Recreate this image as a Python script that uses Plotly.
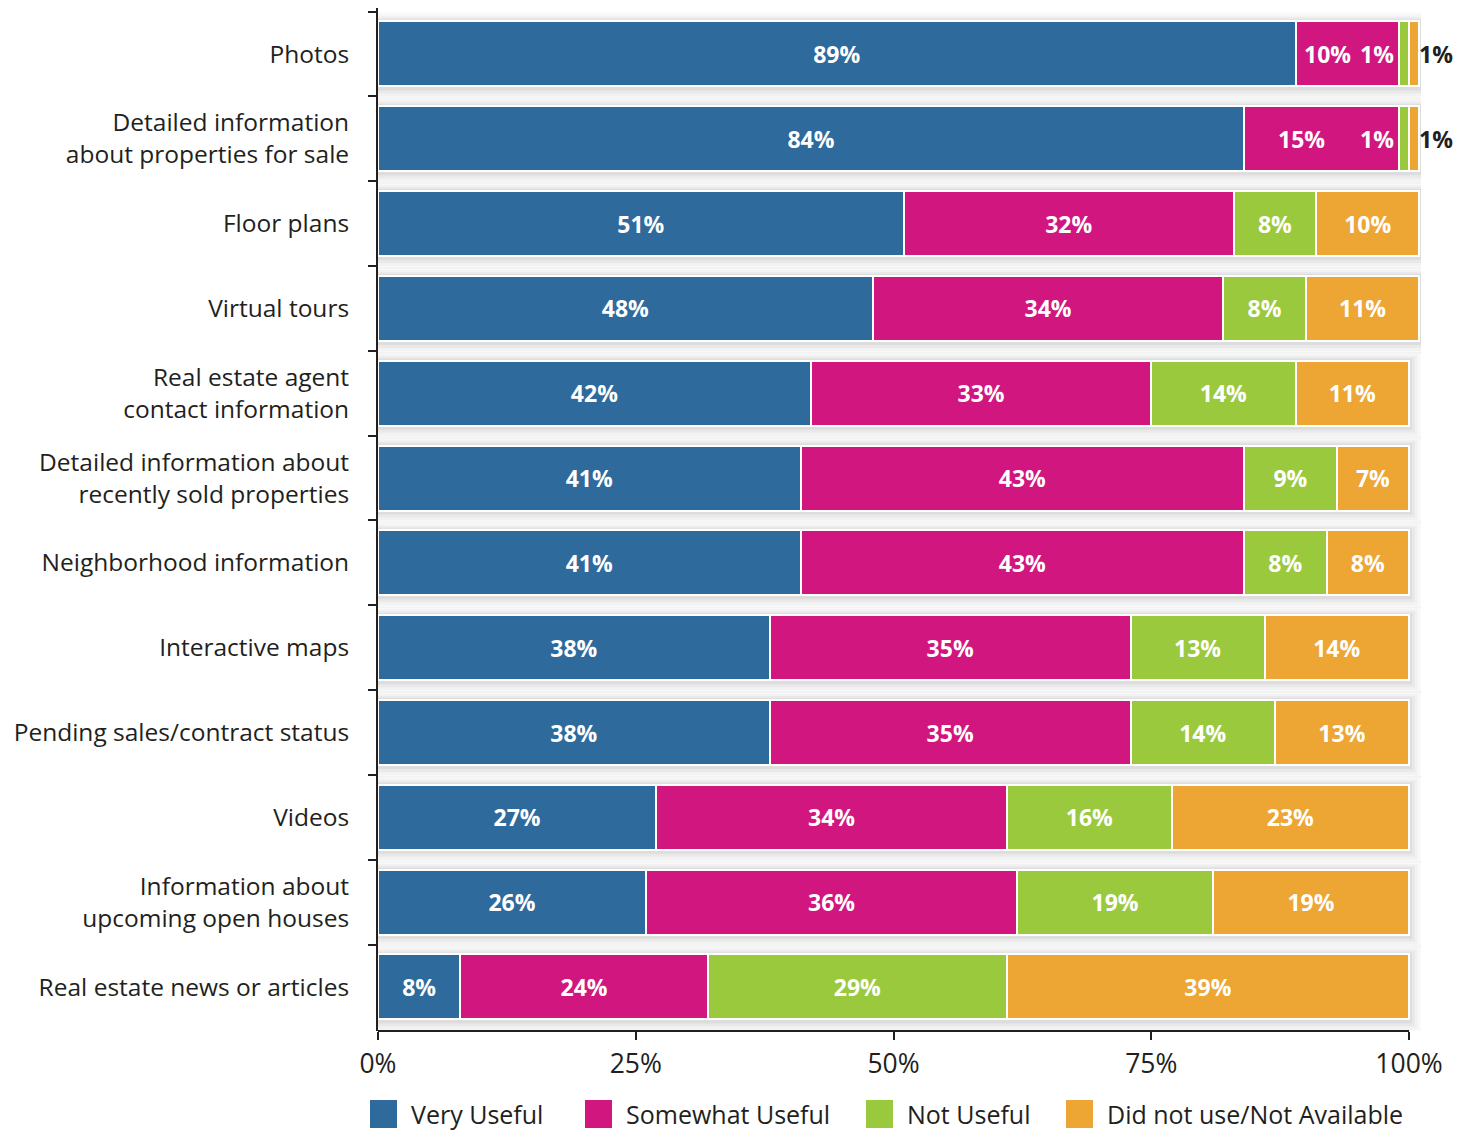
import plotly.graph_objects as go

# Survey: usefulness of website features
categories = [
    "Photos",
    "Detailed information<br>about properties for sale",
    "Floor plans",
    "Virtual tours",
    "Real estate agent<br>contact information",
    "Detailed information about<br>recently sold properties",
    "Neighborhood information",
    "Interactive maps",
    "Pending sales/contract status",
    "Videos",
    "Information about<br>upcoming open houses",
    "Real estate news or articles",
]
very_useful = [89, 84, 51, 48, 42, 41, 41, 38, 38, 27, 26, 8]
somewhat_useful = [10, 15, 32, 34, 33, 43, 43, 35, 35, 34, 36, 24]
not_useful = [1, 1, 8, 8, 14, 9, 8, 13, 14, 16, 19, 29]
did_not_use = [1, 1, 10, 11, 11, 7, 8, 14, 13, 23, 19, 39]

series_names = ["Very Useful", "Somewhat Useful", "Not Useful", "Did not use/Not Available"]
series_values = [very_useful, somewhat_useful, not_useful, did_not_use]
colors = ["#2e6a9b", "#d1167f", "#9bc93e", "#eda534"]

x_ticks = [0, 25, 50, 75, 100]
x_tick_labels = ["0%", "25%", "50%", "75%", "100%"]

FONT = "Open Sans"
TEXT_COLOR = "#231f20"
XMAX = 101.16
SMALL = 1  # segments this small get their label placed outside the segment

# plot-area geometry (pixels) used for the legend and the shadow padding
PLOT_L, PLOT_W = 378, 1461 - 378 - 40
PLOT_T, PLOT_H = 8, 1131 - 8 - 100
Y_RANGE = [11.519, -0.542]
PX_PER_X = PLOT_W / XMAX
PX_PER_Y = PLOT_H / (Y_RANGE[0] - Y_RANGE[1])

LABEL_FONT = dict(family=FONT, size=23, color="white", weight="bold")

fig = go.Figure()

for k, (name, vals, col) in enumerate(zip(series_names, series_values, colors)):
    texts = []
    for i, v in enumerate(vals):
        nxt = series_values[k + 1][i] if k + 1 < len(series_values) else None
        # labels of tiny segments, and of segments followed by one, are annotations
        if v <= SMALL or (nxt is not None and nxt <= SMALL):
            texts.append("")
        else:
            texts.append(f"{v}%")
    fig.add_trace(go.Bar(
        y=categories,
        x=vals,
        name=name,
        orientation="h",
        marker=dict(color=col, line=dict(color="white", width=2)),
        text=texts,
        textposition="inside",
        insidetextanchor="middle",
        textangle=0,
        constraintext="none",
        textfont=LABEL_FONT,
        showlegend=False,
        hoverinfo="skip",
    ))

shapes = []
annotations = []

# soft drop shadow behind each bar row
shadow_layers = [(13, 9, 13, 0.022), (9, 6, 10, 0.028), (6, 4, 7, 0.035), (3, 2, 4, 0.05)]
for i, cat in enumerate(categories):
    total = sum(s[i] for s in series_values)
    half = (1 - 0.234) / 2
    for pad_x, pad_top, pad_bot, a in shadow_layers:
        shapes.append(dict(
            type="rect", xref="x", yref="y", layer="below",
            x0=-pad_x / PX_PER_X, x1=total + pad_x / PX_PER_X,
            y0=i - half - pad_top / PX_PER_Y, y1=i + half + pad_bot / PX_PER_Y,
            fillcolor=f"rgba(0,0,0,{a})", line=dict(width=0),
        ))

    # labels for tiny segments and their crowded neighbours
    cum = 0
    for k, s in enumerate(series_values):
        v = s[i]
        nxt = series_values[k + 1][i] if k + 1 < len(series_values) else None
        if v <= SMALL:
            if k == len(series_values) - 1:
                annotations.append(dict(
                    x=cum + v, y=cat, xref="x", yref="y", text=f"{v}%",
                    xanchor="left", showarrow=False, xshift=-2,
                    font=dict(LABEL_FONT, color=TEXT_COLOR),
                ))
            else:
                annotations.append(dict(
                    x=cum, y=cat, xref="x", yref="y", text=f"{v}%",
                    xanchor="right", showarrow=False, xshift=-3,
                    font=LABEL_FONT,
                ))
        elif nxt is not None and nxt <= SMALL:
            annotations.append(dict(
                x=cum + v / 2, y=cat, xref="x", yref="y", text=f"{v}%",
                xanchor="center", showarrow=False, xshift=-20,
                font=LABEL_FONT,
            ))
        cum += v

# x axis baseline ending at 100%
shapes.append(dict(
    type="line", xref="paper", yref="paper", x0=0, x1=100 / XMAX, y0=0, y1=0,
    line=dict(color=TEXT_COLOR, width=2),
))


def px_x(px):
    return (px - PLOT_L) / PLOT_W


def px_y(py):
    return (PLOT_T + PLOT_H - py) / PLOT_H


# legend drawn as squares with captions
legend_x = [370, 585, 866, 1066]
for lx, name, col in zip(legend_x, series_names, colors):
    shapes.append(dict(
        type="rect", xref="paper", yref="paper",
        x0=px_x(lx), x1=px_x(lx + 27), y0=px_y(1128), y1=px_y(1100),
        fillcolor=col, line=dict(width=0),
    ))
    annotations.append(dict(
        x=px_x(lx + 39), y=px_y(1114), xref="paper", yref="paper",
        text=name, xanchor="left", yanchor="middle", showarrow=False,
        font=dict(family=FONT, size=25, color=TEXT_COLOR),
    ))

fig.update_layout(
    barmode="stack",
    bargap=0.234,
    width=1461,
    height=1131,
    margin=dict(l=PLOT_L, r=40, t=PLOT_T, b=100),
    paper_bgcolor="white",
    plot_bgcolor="white",
    font=dict(family=FONT, color=TEXT_COLOR),
    shapes=shapes,
    annotations=annotations,
    xaxis=dict(
        range=[0, XMAX],
        tickvals=x_ticks,
        ticktext=x_tick_labels,
        ticks="outside",
        ticklen=8,
        tickwidth=2,
        tickcolor=TEXT_COLOR,
        showgrid=False,
        zeroline=False,
        showline=False,
        tickfont=dict(family=FONT, size=26.5, color=TEXT_COLOR),
        ticklabelstandoff=1,
        fixedrange=True,
    ),
    yaxis=dict(
        categoryorder="array",
        categoryarray=categories,
        range=Y_RANGE,
        tickson="boundaries",
        ticks="outside",
        ticklen=8,
        tickwidth=2,
        tickcolor=TEXT_COLOR,
        showline=True,
        linewidth=2,
        linecolor=TEXT_COLOR,
        showgrid=False,
        zeroline=False,
        tickfont=dict(family=FONT, size=24.5, color=TEXT_COLOR),
        ticklabelstandoff=22,
        fixedrange=True,
    ),
)

fig.write_html("out.html")
